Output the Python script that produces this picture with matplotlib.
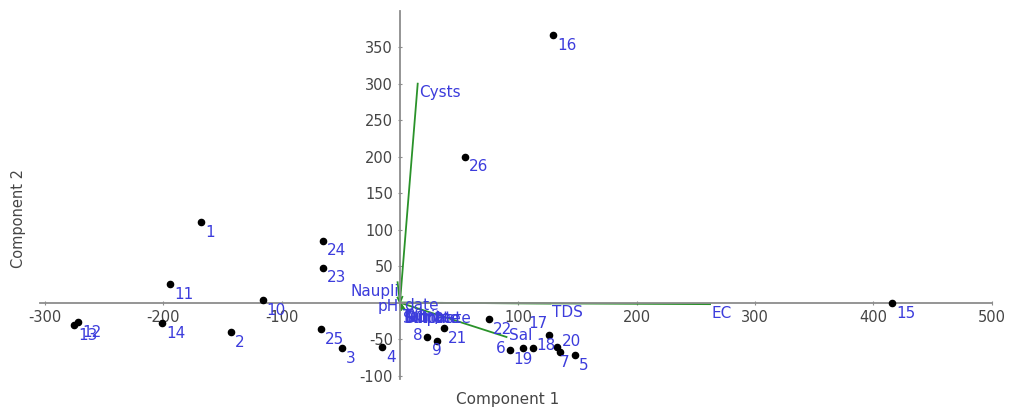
import matplotlib.pyplot as plt

plt.rcParams['font.family'] = ['DejaVu Sans']
plt.rcParams['axes.unicode_minus'] = False

# sample scores (Component 1, Component 2)
sample_ids = ['1', '2', '3', '4', '5', '6', '7', '8', '9', '10', '11', '12', '13',
              '14', '15', '16', '17', '18', '19', '20', '21', '22', '23', '24', '25', '26']
comp1 = [-168, -143, -49, -15, 148, 93, 135, 23, 31, -116, -194, -272, -275,
         -201, 416, 129, 126, 112, 104, 133, 37, 75, -65, -65, -67, 55]
comp2 = [110, -40, -62, -61, -72, -65, -68, -47, -52, 3, 25, -27, -31,
         -28, -1, 366, -44, -62, -62, -61, -35, -23, 48, 85, -36, 200]

# variable loadings (biplot vectors)
var_names = ['Cysts', 'EC', 'TDS', 'Sal', 'Naupli', 'pH', 'date',
             'Temp', 'DO', 'Nitrite', 'Nitrate', 'Sulphate', 'Silicate']
var_x = [15, 262, 127, 90, -2, -2, 2, 1, 3, 2, 4, 1, 3]
var_y = [300, -2, -1, -47, 28, 7, 8, -7, -8, -8, -9, -10, -9]

blue = '#3c3cdc'
green = '#2a922a'
grey = '#454545'

# labels that sit somewhere other than lower right of their point
label_place = {
    '6': ((-3, 1), 'right', 'center'),
    '8': ((-3, 1), 'right', 'center'),
    '9': ((0, -2), 'center', 'top'),
    '19': ((0, -3), 'center', 'top'),
    '17': ((-1, 3), 'right', 'bottom'),
    '18': ((3, 2), 'left', 'center'),
    '20': ((3, 4), 'left', 'center'),
    '7': ((0, -2), 'left', 'top'),
}
vec_place = {'Sal': ((2, 1), 'left', 'center')}

fig = plt.figure(figsize=(10.09, 4.12), dpi=100)
ax = fig.add_axes([0.0327, 0.0704, 0.962, 0.9126])
ax.set_xlim(-310, 510)
ax.set_ylim(-110, 405)

# axes through origin
for side in ['top', 'right']:
    ax.spines[side].set_visible(False)
ax.spines['left'].set_position(('data', 0))
ax.spines['bottom'].set_position(('data', 0))
ax.spines['left'].set_bounds(-104, 400)
ax.spines['bottom'].set_bounds(-304, 500)
for side in ['left', 'bottom']:
    ax.spines[side].set_color('#8c8c8c')
    ax.spines[side].set_linewidth(1.3)

ax.set_xticks([-300, -200, -100, 100, 200, 300, 400, 500])
ax.set_yticks([-100, -50, 50, 100, 150, 200, 250, 300, 350])
ax.tick_params(axis='both', colors='#8c8c8c', labelcolor=grey, labelsize=10.5,
               length=3, direction='inout')
ax.tick_params(axis='x', pad=4)

# vectors
for name, vx, vy in zip(var_names, var_x, var_y):
    ax.plot([0, vx], [0, vy], color=green, lw=1.3, zorder=2)
    default = ((1, -1), 'right' if vx < 0 else 'left', 'top')
    off, ha, va = vec_place.get(name, default)
    ax.annotate(name, (vx, vy), xytext=off, textcoords='offset points',
                ha=ha, va=va, color=blue, fontsize=11, zorder=3)

# sample points
ax.scatter(comp1, comp2, s=20, color='black', zorder=4)
for sid, x, y in zip(sample_ids, comp1, comp2):
    off, ha, va = label_place.get(sid, ((3, -2), 'left', 'top'))
    ax.annotate(sid, (x, y), xytext=off, textcoords='offset points',
                ha=ha, va=va, color=blue, fontsize=11, zorder=5)

fig.text(0.503, 0.03, 'Component 1', ha='center', va='center', color=grey, fontsize=11)
fig.text(0.018, 0.47, 'Component 2', ha='center', va='center', rotation=90,
         color=grey, fontsize=10.5)

fig.savefig('out.png', dpi=100)
